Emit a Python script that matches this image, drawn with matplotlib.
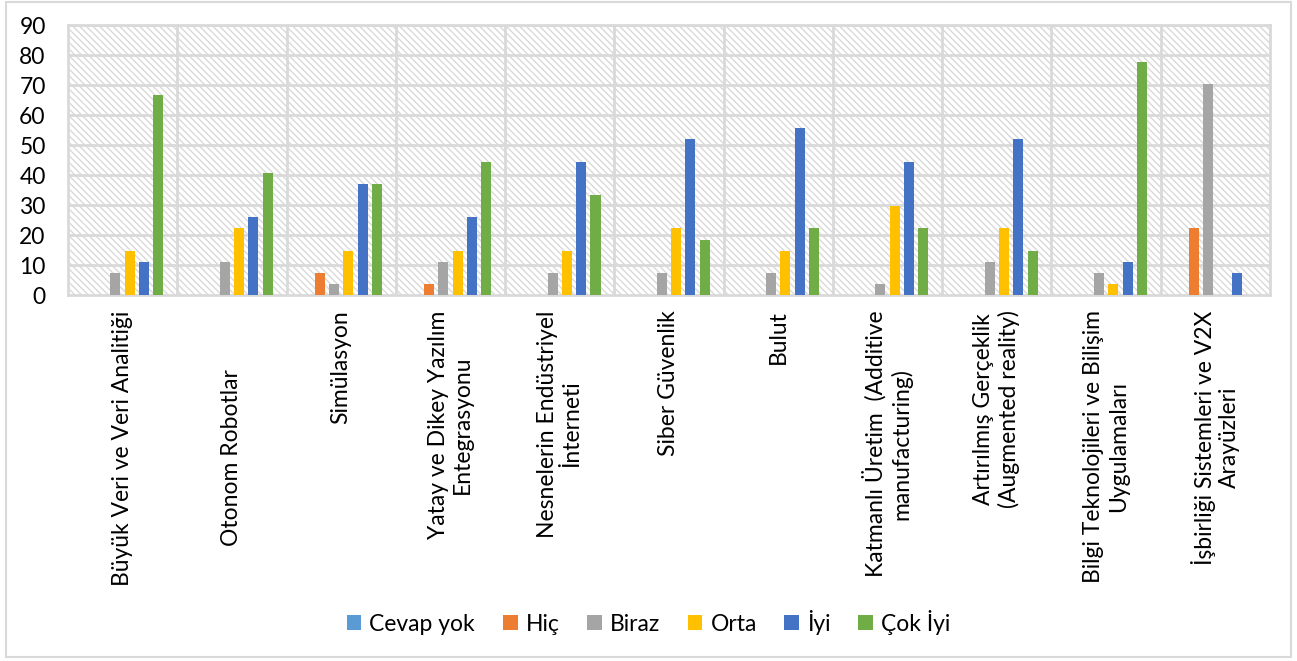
import numpy as np
import matplotlib
matplotlib.use("Agg")
import matplotlib.pyplot as plt
from matplotlib.patches import Rectangle, Patch

plt.rcParams['font.family'] = ['Lato', 'DejaVu Sans']
plt.rcParams['hatch.linewidth'] = 1.0
plt.rcParams['hatch.color'] = '#d9d9d9'

categories = [
    "Büyük Veri ve Veri Analitiği",
    "Otonom Robotlar" + " " * 10,
    "Simülasyon",
    "Yatay ve Dikey Yazılım\nEntegrasyonu",
    "Nesnelerin Endüstriyel\nİnterneti",
    "Siber Güvenlik",
    "Bulut",
    "Katmanlı Üretim  (Additive\nmanufacturing)",
    "Artırılmış Gerçeklik\n(Augmented reality)",
    "Bilgi Teknolojileri ve Bilişim\nUygulamaları",
    "İşbirliği Sistemleri ve V2X\nArayüzleri",
]
series_names = ["Cevap yok", "Hiç", "Biraz", "Orta", "İyi", "Çok İyi"]
cevap_yok = [0, 0, 0, 0, 0, 0, 0, 0, 0, 0, 0]
hic = [0, 0, 7.4, 3.7, 0, 0, 0, 0, 0, 0, 22.2]
biraz = [7.4, 11.1, 3.7, 11.1, 7.4, 7.4, 7.4, 3.7, 11.1, 7.4, 70.4]
orta = [14.8, 22.2, 14.8, 14.8, 14.8, 22.2, 14.8, 29.6, 22.2, 3.7, 0]
iyi = [11.1, 25.9, 37.0, 25.9, 44.4, 51.9, 55.6, 44.4, 51.9, 11.1, 7.4]
cok_iyi = [66.7, 40.7, 37.0, 44.4, 33.3, 18.5, 22.2, 22.2, 14.8, 77.8, 0]
colors = ["#5B9BD5", "#ED7D31", "#A5A5A5", "#FFC000", "#4472C4", "#70AD47"]

all_series = [cevap_yok, hic, biraz, orta, iyi, cok_iyi]
fs = 16.5

fig = plt.figure(figsize=(12.97, 6.61), dpi=100)
ax = fig.add_axes([0.0524, 0.5537, 0.9268, 0.4083])

# hatched plot area background
ax.add_patch(Rectangle((0, 0), 1, 1, transform=ax.transAxes, facecolor='white',
                       hatch='\\\\\\\\\\', edgecolor='#d9d9d9', linewidth=0, zorder=0))

x = np.arange(len(categories))
pitch = 0.131
width = 0.092
for i, (vals, col) in enumerate(zip(all_series, colors)):
    ax.bar(x + (i - 2.5) * pitch, vals, width, color=col, zorder=3, label=series_names[i])

ax.set_xlim(-0.5, len(categories) - 0.5)
ax.set_ylim(0, 90)
ax.set_yticks(range(0, 91, 10))
ax.tick_params(axis='y', length=0, pad=16, labelsize=fs)
ax.tick_params(axis='x', length=0, pad=11)

# grid: horizontal lines and category separators
for yv in range(10, 91, 10):
    ax.axhline(yv, color='#d9d9d9', lw=2, zorder=1)
for xv in np.arange(0.5, len(categories) - 1, 1):
    ax.axvline(xv, color='#d9d9d9', lw=2, zorder=1)
for s in ax.spines.values():
    s.set_color('#d9d9d9')
    s.set_linewidth(2)

ax.set_xticks(x)
ax.set_xticklabels(categories, rotation=90, ha='center', va='top',
                   multialignment='center', fontsize=fs)

handles = [Patch(facecolor=c, edgecolor='none') for c in colors]
fig.legend(handles, series_names, loc='center', bbox_to_anchor=(0.5, 0.059),
           ncol=6, frameon=False, fontsize=fs, handlelength=0.65, handleheight=0.65,
           handletextpad=0.35, columnspacing=1.2)

# chart area border
fig.patches.append(Rectangle((0.005, 0.006), 0.99, 0.991, transform=fig.transFigure,
                             fill=False, edgecolor='#d9d9d9', linewidth=1.5))

fig.savefig("out.png", dpi=100)
